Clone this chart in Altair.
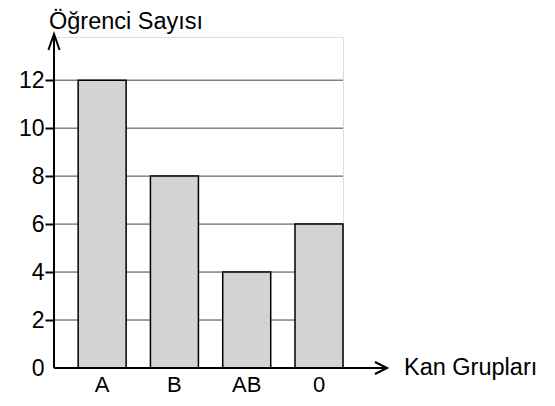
import altair as alt
import pandas as pd

groups = ["A", "B", "AB", "0"]
counts = [12, 8, 4, 6]
y_ticks = [0, 2, 4, 6, 8, 10, 12]
grid_vals = [2, 4, 6, 8, 10, 12]

df = pd.DataFrame({"grup": groups, "sayi": counts})

W, H = 289, 331
FONT = "Liberation Sans"

bars = alt.Chart(df).mark_bar(
    fill="#d3d3d5", stroke="black", strokeWidth=1.5
).encode(
    x=alt.X(
        "grup:N", sort=None,
        scale=alt.Scale(paddingInner=0.336, paddingOuter=0.167, align=1),
        axis=alt.Axis(title=None, labelAngle=0, ticks=False, domain=False,
                      labelFontSize=22, labelFont=FONT, labelColor="black",
                      labelPadding=6, grid=False),
    ),
    y=alt.Y(
        "sayi:Q",
        scale=alt.Scale(domain=[0, 13.8], nice=False),
        axis=alt.Axis(title=None, values=y_ticks, domain=False, tickSize=9,
                      tickWidth=2, tickColor="black",
                      tickOpacity=alt.ExprRef("datum.value === 0 ? 0 : 1"),
                      labelFontSize=23,
                      labelFont=FONT, labelColor="black", labelPadding=1,
                      grid=False),
    ),
)

grid_df = pd.DataFrame({"v": grid_vals})
grid = alt.Chart(grid_df).mark_rule(color="#444", strokeWidth=1).encode(
    y=alt.Y("v:Q", scale=alt.Scale(domain=[0, 13.8], nice=False)),
    x=alt.value(0),
    x2=alt.value(W),
)

y_line = alt.Chart().mark_rule(color="black", strokeWidth=2).encode(
    x=alt.value(0), y=alt.value(-3), y2=alt.value(H)
)
x_line = alt.Chart().mark_rule(color="black", strokeWidth=2).encode(
    x=alt.value(0), x2=alt.value(333), y=alt.value(H)
)
up_head = alt.Chart().mark_point(
    shape="M-0.7,1L0,-1L0.7,1", filled=False, stroke="black",
    strokeWidth=2, size=256, opacity=1
).encode(x=alt.value(0), y=alt.value(5))
right_head = alt.Chart().mark_point(
    shape="M-1,-1L1,0L-1,1", filled=False, stroke="black",
    strokeWidth=2, size=144, opacity=1
).encode(x=alt.value(327), y=alt.value(H))

y_title = alt.Chart().mark_text(
    text="Öğrenci Sayısı", align="left", baseline="alphabetic",
    fontSize=23.5, font=FONT, color="black"
).encode(x=alt.value(-5), y=alt.value(-8))
x_title = alt.Chart().mark_text(
    text="Kan Grupları", align="left", baseline="middle",
    fontSize=23.5, font=FONT, color="black"
).encode(x=alt.value(350), y=alt.value(H))

chart = alt.layer(grid, bars, y_line, x_line, up_head, right_head, y_title, x_title).properties(
    width=W, height=H,
    autosize=alt.AutoSizeParams(type="none"),
    padding={"left": 46, "top": 29, "right": 200, "bottom": 30},
).configure_view(stroke=None).configure(background="white")

chart.save("out.html", embed_options={"renderer": "svg", "actions": False})
